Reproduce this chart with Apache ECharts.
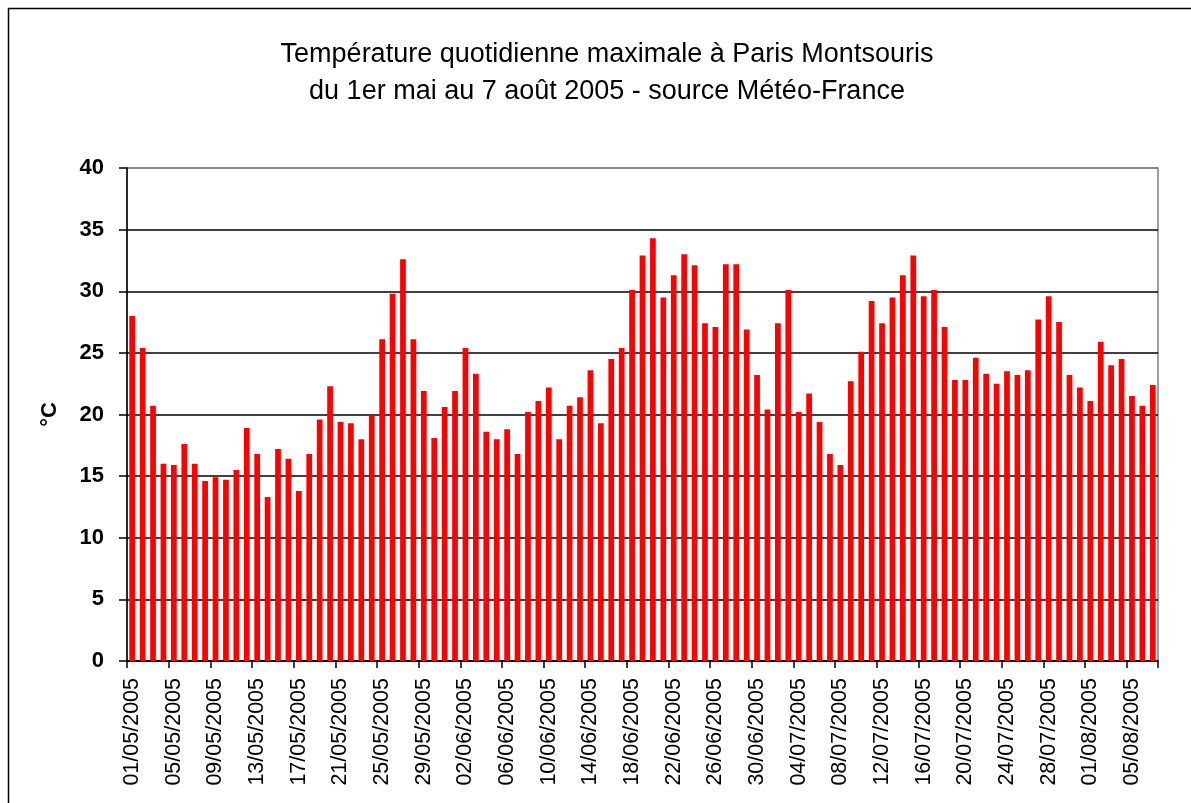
<!DOCTYPE html>
<html>
<head>
<meta charset="utf-8">
<script src="https://cdn.jsdelivr.net/npm/echarts@6/dist/echarts.min.js"></script>
<style>
html,body{margin:0;padding:0;background:#fff;}
#chart{width:1191px;height:803px;}
</style>
</head>
<body>
<div id="chart"></div>
<script>
const titleLines = ["Température quotidienne maximale à Paris Montsouris", "du 1er mai au 7 août 2005 - source Météo-France"];
const yAxisName = "°C";
const yTicks = [0, 5, 10, 15, 20, 25, 30, 35, 40];

const mayValues = [28.0, 25.4, 20.7, 16.0, 15.9, 17.6, 16.0, 14.6, 14.9, 14.7,
  15.5, 18.9, 16.8, 13.3, 17.2, 16.4, 13.8, 16.8, 19.6, 22.3,
  19.4, 19.3, 18.0, 19.9, 26.1, 29.8, 32.6, 26.1, 21.9, 18.1, 20.6];
const juneValues = [21.9, 25.4, 23.3, 18.6, 18.0, 18.8, 16.8, 20.2, 21.1, 22.2,
  18.0, 20.7, 21.4, 23.6, 19.3, 24.5, 25.4, 30.1, 32.9, 34.3,
  29.5, 31.3, 33.0, 32.1, 27.4, 27.1, 32.2, 32.2, 26.9, 23.2];
const julyValues = [20.4, 27.4, 30.1, 20.2, 21.7, 19.4, 16.8, 15.9, 22.7, 25.1,
  29.2, 27.4, 29.5, 31.3, 32.9, 29.6, 30.1, 27.1, 22.8, 22.8,
  24.6, 23.3, 22.5, 23.5, 23.2, 23.6, 27.7, 29.6, 27.5, 23.2, 22.2];
const augustValues = [21.1, 25.9, 24.0, 24.5, 21.5, 20.7, 22.4];

const months = [
  { mm: "05", values: mayValues },
  { mm: "06", values: juneValues },
  { mm: "07", values: julyValues },
  { mm: "08", values: augustValues }
];

const categories = [];
const values = [];
months.forEach(m => {
  m.values.forEach((v, i) => {
    const dd = String(i + 1).padStart(2, "0");
    categories.push(dd + "/" + m.mm + "/2005");
    values.push(v);
  });
});

const chart = echarts.init(document.getElementById("chart"), null, { renderer: "canvas" });
const FONT = "Liberation Sans, Arial, sans-serif";
const splitColors = yTicks.map((t, i) => i === yTicks.length - 1 ? "#808080" : "#000000");

chart.setOption({
  animation: false,
  backgroundColor: "#ffffff",
  graphic: [{
    type: "rect",
    shape: { x: 8.5, y: 8.5, width: 1300, height: 1300 },
    style: { fill: null, stroke: "#000", lineWidth: 1.5 },
    silent: true
  }],
  title: {
    text: titleLines[0] + "\n" + titleLines[1],
    left: 602,
    textAlign: "center",
    top: 31,
    textStyle: { fontFamily: FONT, fontSize: 27, fontWeight: "normal", color: "#000", lineHeight: 37 }
  },
  grid: {
    left: 127, top: 168, width: 1031, height: 493,
    show: true, borderColor: "#808080", borderWidth: 1.5, backgroundColor: "transparent"
  },
  xAxis: {
    type: "category",
    data: categories,
    boundaryGap: true,
    axisLine: { show: true, lineStyle: { color: "#000", width: 1.5 } },
    axisTick: { show: true, interval: 3, length: 7, lineStyle: { color: "#000", width: 1.5 } },
    axisLabel: {
      interval: 3, rotate: 90, margin: 17,
      fontFamily: FONT, fontSize: 21.5, color: "#000"
    },
    splitLine: { show: false }
  },
  yAxis: {
    type: "value",
    min: 0, max: 40, interval: 5,
    name: yAxisName,
    nameLocation: "middle",
    nameGap: 66,
    nameRotate: 90,
    nameTextStyle: { fontFamily: FONT, fontSize: 22, fontWeight: "bold", color: "#000" },
    axisLine: { show: true, lineStyle: { color: "#000", width: 1.5 } },
    axisTick: { show: true, length: 8, lineStyle: { color: "#000", width: 1.5 } },
    axisLabel: { fontFamily: FONT, fontSize: 22, fontWeight: "bold", color: "#000", margin: 23 },
    splitLine: { show: true, lineStyle: { color: splitColors, width: 1.5 } }
  },
  series: [{
    type: "bar",
    data: values,
    barCategoryGap: "45%",
    itemStyle: { color: "#ff0000" }
  }]
});
</script>
</body>
</html>
